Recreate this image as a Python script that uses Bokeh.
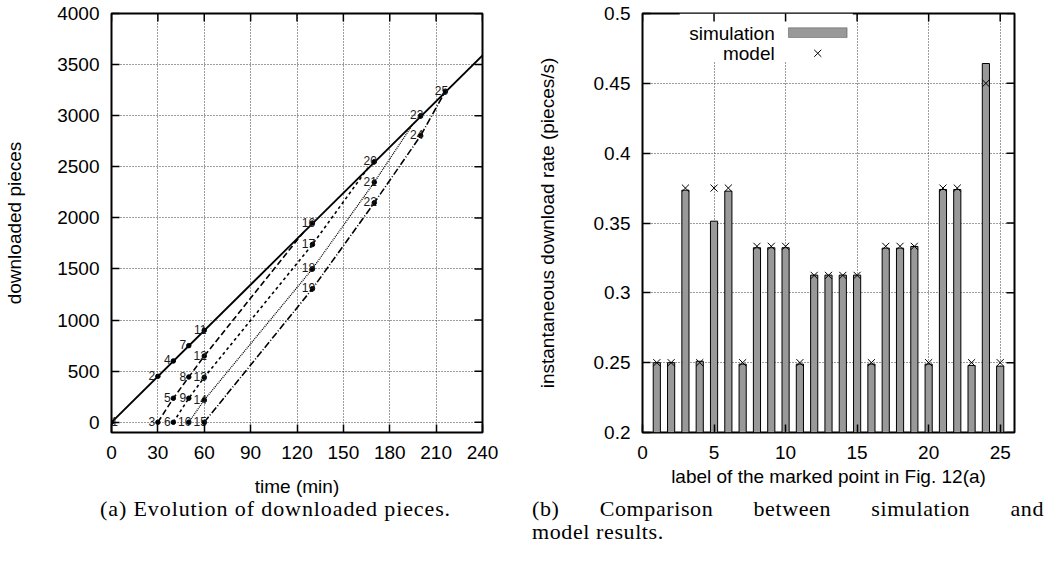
import math
from bokeh.plotting import figure
from bokeh.models import (Range1d, SingleIntervalTicker, CustomJSTickFormatter,
                          ColumnDataSource, Div, BoxAnnotation, Label)
from bokeh.layouts import column, row
from bokeh.embed import file_html
from bokeh.resources import INLINE
from bokeh.core.properties import value

# ---------------- Fig. (a) data: downloaded pieces vs time ----------------
solid_t = [0, 240]
solid_v = [0, 3590]
lineA_t = [30, 40, 50, 60, 125]
lineA_v = [0, 235, 443, 648, 1875]
lineB_t = [40, 50, 60, 130, 166]
lineB_v = [0, 235, 440, 1740, 2490]
lineC_t = [50, 60, 130, 170, 196]
lineC_v = [0, 218, 1502, 2349, 2940]
lineD_t = [60, 130, 170, 200, 216]
lineD_v = [0, 1307, 2148, 2805, 3240]

mark_label = list(range(1, 26))
mark_t = [0, 30, 30, 40, 40, 40, 50, 50, 50, 50, 60, 60, 60, 60, 60,
          130, 130, 130, 130, 170, 170, 170, 200, 200, 216]
mark_v = [0, 450, 0, 600, 235, 0, 750, 443, 235, 0, 900, 648, 440, 218, 0,
          1950, 1740, 1502, 1307, 2550, 2349, 2148, 3000, 2805, 3240]

# ---------------- Fig. (b) data: instantaneous download rate ----------------
point_ids = list(range(1, 26))
sim_rate = [0.250, 0.250, 0.3735, 0.251, 0.3513, 0.3728, 0.249, 0.3323, 0.3323, 0.3323,
            0.249, 0.3127, 0.3127, 0.3127, 0.3127, 0.249, 0.3320, 0.3320, 0.3332, 0.249,
            0.374, 0.374, 0.248, 0.4642, 0.2475]
model_rate = [0.25, 0.25, 0.375, 0.25, 0.375, 0.375, 0.25, 0.3333, 0.3333, 0.3333,
              0.25, 0.3125, 0.3125, 0.3125, 0.3125, 0.25, 0.3333, 0.3333, 0.3333, 0.25,
              0.375, 0.375, 0.25, 0.45, 0.25]

FONT = "Liberation Sans"
TICK_FS = "19px"
GRID_COLOR = "#3a3a3a"


def ticks_between(lo, hi, step):
    n0 = math.ceil(lo / step - 1e-9)
    out = []
    k = n0
    while k * step <= hi + 1e-9:
        out.append(round(k * step, 6))
        k += 1
    return out


def style(p, xtick, ytick, fmt=None):
    p.outline_line_color = "black"
    p.outline_line_width = 2
    p.background_fill_color = "white"
    p.border_fill_color = "white"
    p.xaxis.ticker = SingleIntervalTicker(interval=xtick, num_minor_ticks=0)
    p.yaxis.ticker = SingleIntervalTicker(interval=ytick, num_minor_ticks=0)
    if fmt is not None:
        p.yaxis.formatter = fmt
    p.xgrid.ticker = p.xaxis[0].ticker
    p.ygrid.ticker = p.yaxis[0].ticker
    p.grid.grid_line_color = GRID_COLOR
    p.grid.grid_line_dash = "1 2"
    p.grid.grid_line_width = 1
    for ax in p.axis:
        ax.axis_line_color = None
        ax.major_tick_in = 8
        ax.major_tick_out = 0
        ax.major_tick_line_color = "black"
        ax.major_tick_line_width = 1.5
        ax.minor_tick_line_color = None
        ax.major_label_text_font = FONT
        ax.major_label_text_font_size = TICK_FS
        ax.major_label_text_color = "black"
        ax.axis_label_text_font = FONT
        ax.axis_label_text_font_size = "19px"
        ax.axis_label_text_font_style = "normal"
        ax.axis_label_text_color = "black"


def mirror_ticks(p, xtick, ytick):
    # inward ticks on the top and right frame edges (gnuplot "mirror"),
    # drawn as dash markers centred on the edge; the frame clips the outer half
    xr, yr = p.x_range, p.y_range
    xs = ticks_between(xr.start, xr.end, xtick)
    ys = ticks_between(yr.start, yr.end, ytick)
    p.scatter(xs, [yr.end] * len(xs), marker="dash", angle=math.pi / 2, size=16,
              line_color="black", line_width=1.5)
    p.scatter([xr.end] * len(ys), ys, marker="dash", size=16,
              line_color="black", line_width=1.5)


# ---------------- left figure ----------------
p1 = figure(width=518, height=499, output_backend="svg", toolbar_location=None,
            x_range=Range1d(0, 240), y_range=Range1d(-100, 4000),
            min_border_left=111, min_border_right=36, min_border_top=13, min_border_bottom=67)
style(p1, 30, 500)
p1.xaxis.axis_label = "time (min)"
p1.yaxis.axis_label = "downloaded pieces"
p1.xaxis.major_label_standoff = 13
p1.xaxis.axis_label_standoff = 14
p1.yaxis.major_label_standoff = 12
p1.yaxis.axis_label_standoff = 29

p1.line(solid_t, solid_v, line_color="black", line_width=1.8)
p1.line(lineA_t, lineA_v, line_color="black", line_width=1.6, line_dash="6 3")
p1.line(lineB_t, lineB_v, line_color="black", line_width=1.6, line_dash="3 3")
p1.line(lineC_t, lineC_v, line_color="black", line_width=1.3, line_dash="1 1")
p1.line(lineD_t, lineD_v, line_color="black", line_width=1.6, line_dash="7 2 1 2")
p1.scatter(mark_t, mark_v, size=4.5, color="black")
mirror_ticks(p1, 30, 500)

lab_src = ColumnDataSource(dict(
    t=mark_t, v=mark_v, txt=[str(l) for l in mark_label],
    dx=[3 if l == 1 else (-6 if l < 10 else -4) for l in mark_label]))
p1.text(x="t", y="v", text="txt", x_offset="dx", y_offset=-1, source=lab_src,
        text_align="center", text_baseline="alphabetic",
        text_font=value(FONT), text_font_size="12px", text_color="#1a1a1a")

# ---------------- right figure ----------------
rate_min = 0.2
p2 = figure(width=533, height=499, output_backend="svg", toolbar_location=None,
            x_range=Range1d(0, 26), y_range=Range1d(rate_min, 0.5),
            min_border_left=124, min_border_right=37, min_border_top=13, min_border_bottom=67)
fmt = CustomJSTickFormatter(code="return String(Number(tick.toFixed(3)));")
style(p2, 5, 0.05, fmt)
p2.xaxis.axis_label = "label of the marked point in Fig. 12(a)"
p2.yaxis.axis_label = "instantaneous download rate (pieces/s)"
p2.xaxis.major_label_standoff = 13
p2.xaxis.axis_label_standoff = 4
p2.yaxis.major_label_standoff = 12
p2.yaxis.axis_label_standoff = 33

# legend background (gnuplot style key: text left, sample right)
p2.add_layout(BoxAnnotation(left=2.6, right=14.7, bottom=0.4655, top=0.5,
                            fill_color="white", fill_alpha=1.0, line_color=None,
                            level="underlay"))

p2.vbar(x=point_ids, top=sim_rate, bottom=rate_min, width=0.5,
        fill_color="#999999", line_color="black", line_width=1)
p2.scatter(point_ids, model_rate, marker="x", size=10, line_color="black", line_width=1)
mirror_ticks(p2, 5, 0.05)

p2.add_layout(Label(x=9.24, y=0.4857, text="simulation", text_align="right",
                    text_baseline="middle", text_font=FONT, text_font_size="19px",
                    text_color="black"))
p2.add_layout(Label(x=9.24, y=0.4715, text="model", text_align="right",
                    text_baseline="middle", text_font=FONT, text_font_size="19px",
                    text_color="black"))
p2.add_layout(BoxAnnotation(left=10.2, right=14.3, bottom=0.4828, top=0.4898,
                            fill_color="#999999", fill_alpha=1.0, line_color="black",
                            line_width=1))
p2.scatter([12.25], [0.4715], marker="x", size=10, line_color="black", line_width=1)

# ---------------- captions ----------------
cap_style = ("font-family:'Liberation Serif','DejaVu Serif',serif;font-size:22px;"
             "line-height:23px;color:black;")
div_a = Div(text=f'<div style="{cap_style}letter-spacing:0.9px;margin-top:-2px;padding-left:100px;'
                 'white-space:nowrap;">(a) Evolution of downloaded pieces.</div>',
            width=518, height=60, margin=(0, 0, 0, 0))
div_b = Div(text=f'<div style="{cap_style}letter-spacing:0.6px;margin-top:-2px;margin-left:14px;width:512px;'
                 'text-align:justify;text-align-last:justify;">(b) Comparison between simulation and</div>'
                 f'<div style="{cap_style}letter-spacing:0.6px;margin-left:14px;white-space:nowrap;">'
                 'model results.</div>',
            width=533, height=60, margin=(0, 0, 0, 0))

layout = column(row(p1, p2), row(div_a, div_b))
open("out.html", "w").write(file_html(layout, INLINE))
